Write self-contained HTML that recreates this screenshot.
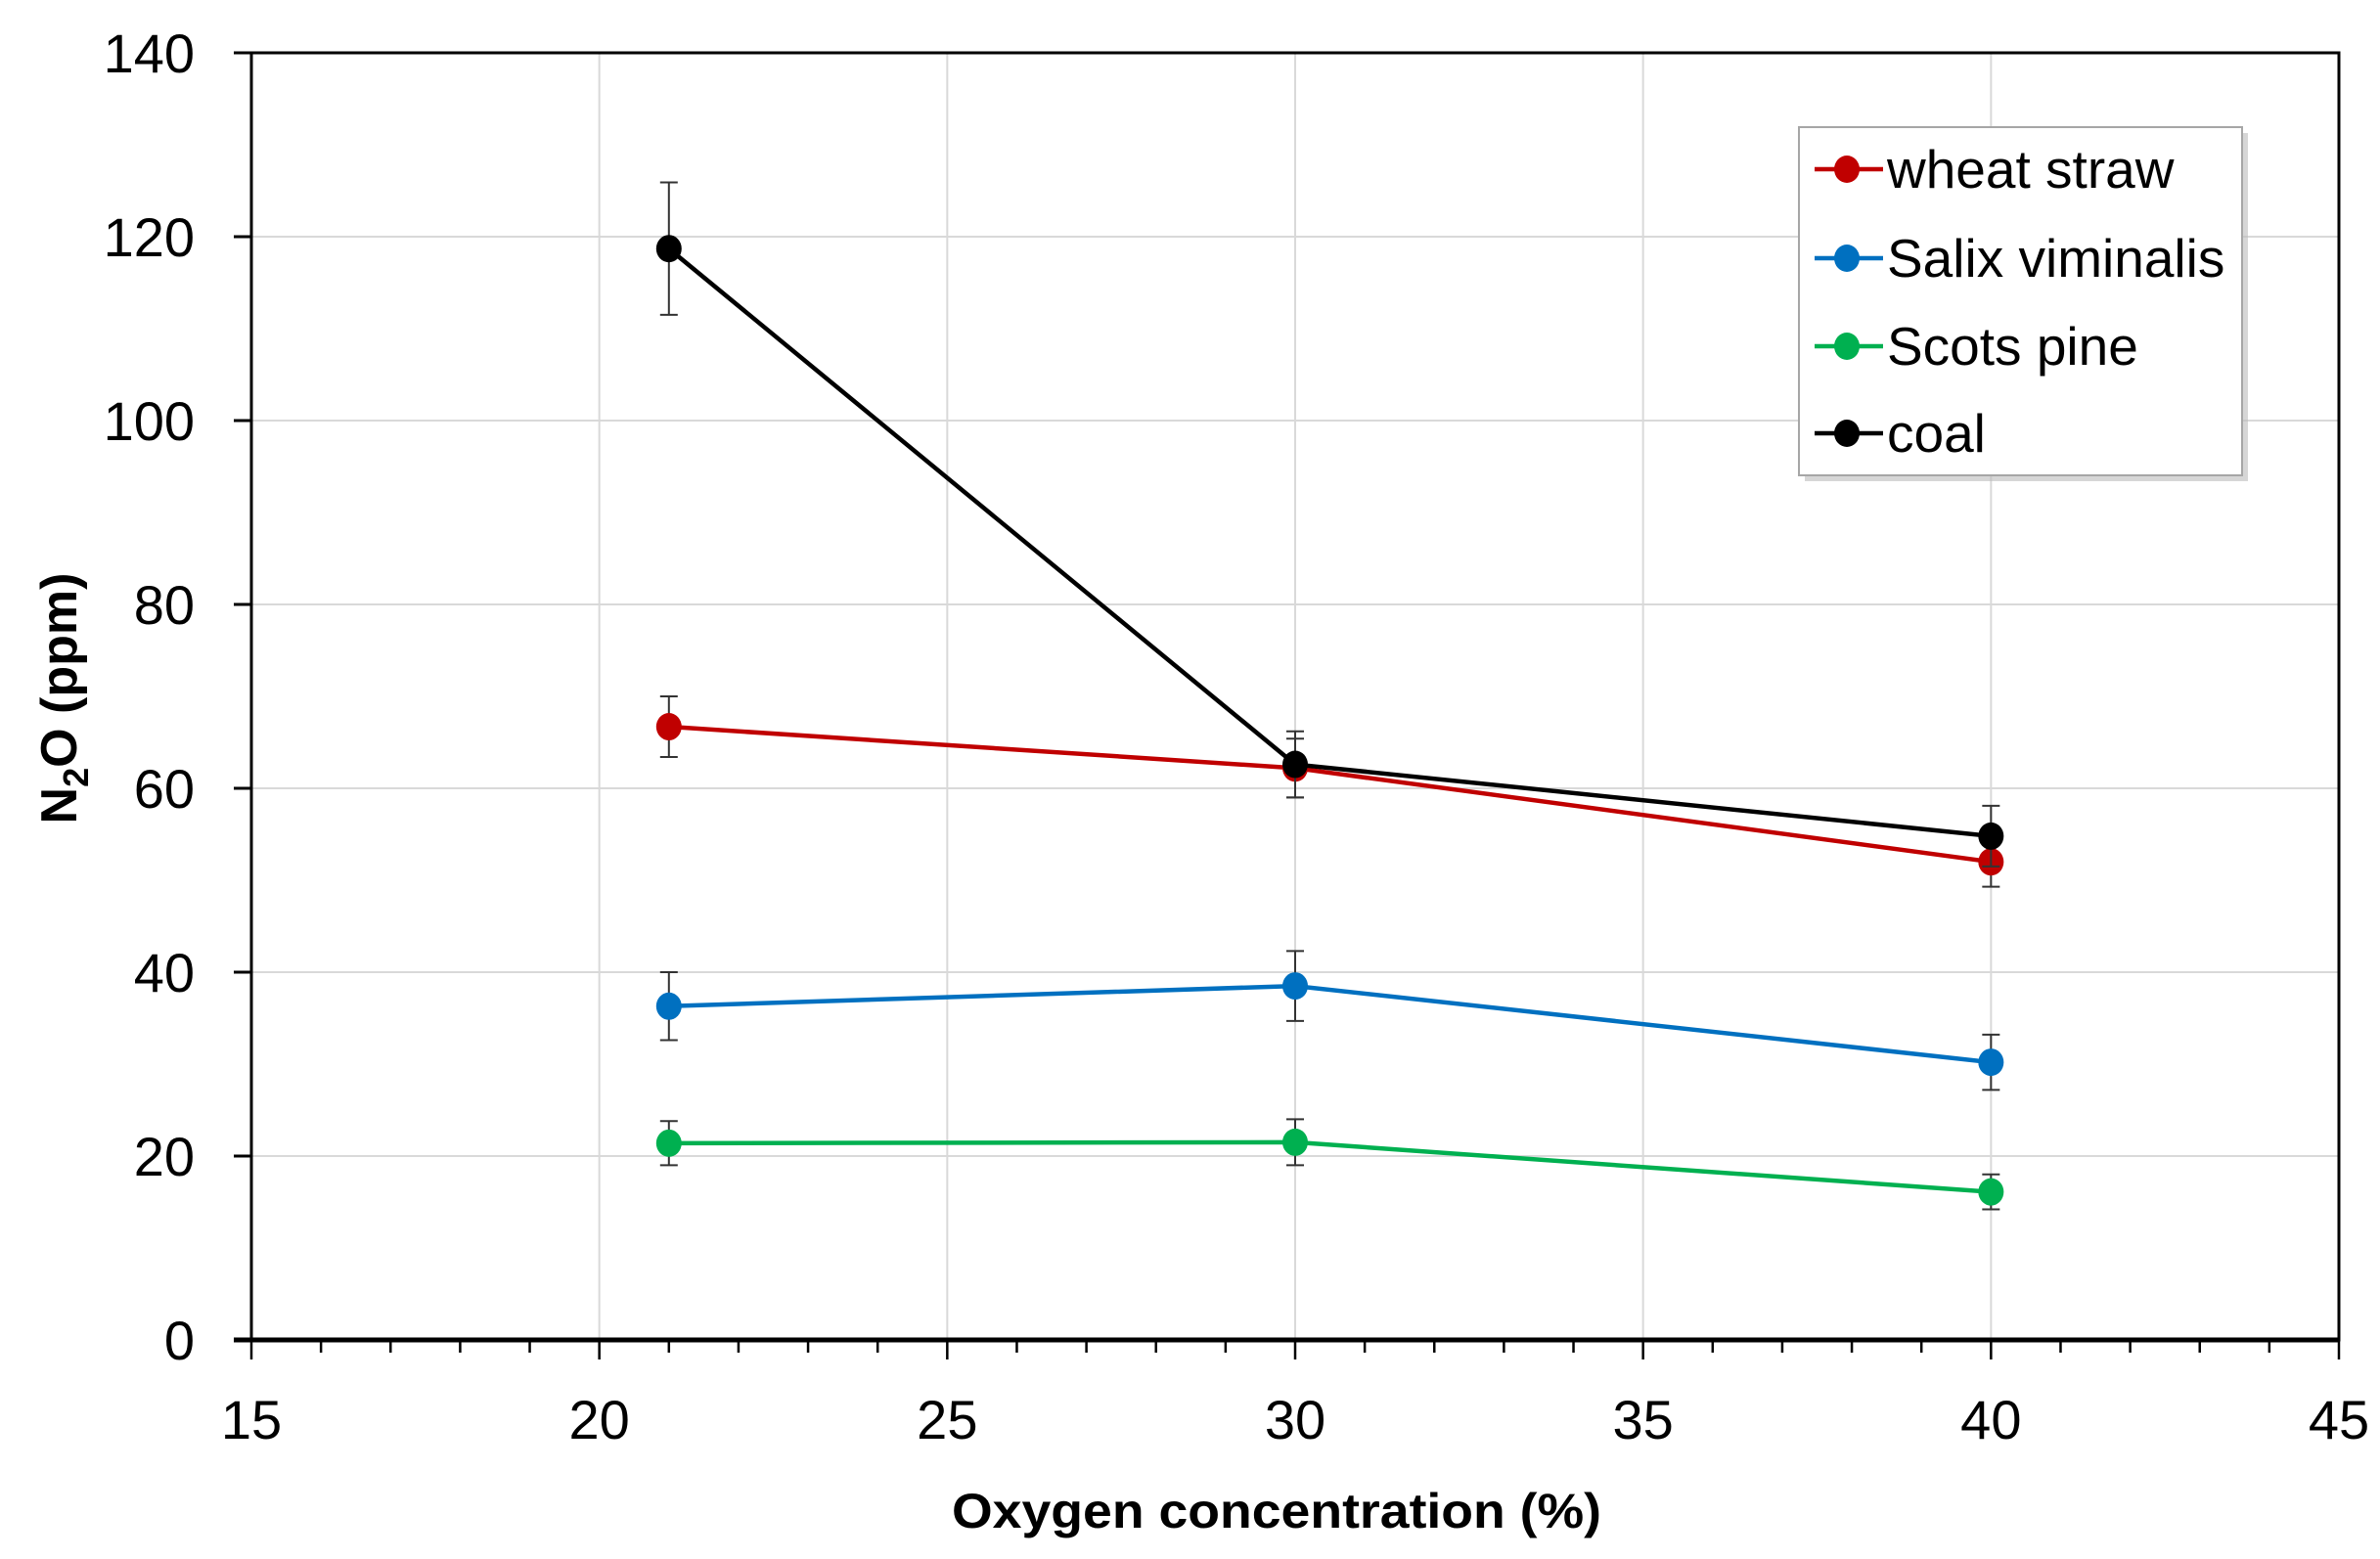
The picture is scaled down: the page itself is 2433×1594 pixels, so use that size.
<!DOCTYPE html>
<html><head><meta charset="utf-8"><style>
html,body{margin:0;padding:0;background:#fff;}
svg{display:block;font-family:"Liberation Sans",sans-serif;}
</style></head><body>
<svg id="chart" width="2433" height="1594" viewBox="0 0 2433 1594" xmlns="http://www.w3.org/2000/svg"></svg>
<script>
const xCats = [21, 30, 40];
const seriesNames = ["wheat straw", "Salix viminalis", "Scots pine", "coal"];
const seriesColors = ["#c00000", "#0070c0", "#00b050", "#000000"];
const wheatVals = [66.7, 62.2, 52.0];
const salixVals = [36.3, 38.5, 30.2];
const pineVals = [21.4, 21.5, 16.1];
const coalVals = [118.7, 62.6, 54.8];
const wheatErr = [3.3, 3.2, 2.7];
const salixErr = [3.7, 3.8, 3.0];
const pineErr = [2.4, 2.5, 1.9];
const coalErr = [7.2, 3.6, 3.3];
const xTicks = [15, 20, 25, 30, 35, 40, 45];
const yTicks = [0, 20, 40, 60, 80, 100, 120, 140];

const svg = document.getElementById('chart');
const NS = "http://www.w3.org/2000/svg";
const L = 257, R = 2391, T = 54, B = 1370;
const xMin = 15, xMax = 45, yMin = 0, yMax = 140;
function X(v){ return L + (v - xMin) / (xMax - xMin) * (R - L); }
function Y(v){ return B - (v - yMin) / (yMax - yMin) * (B - T); }
function mk(tag, attrs, parent){
  const e = document.createElementNS(NS, tag);
  for (const k in attrs) e.setAttribute(k, attrs[k]);
  (parent || svg).appendChild(e);
  return e;
}
for (const t of yTicks) {
  if (t === 0) continue;
  const g = mk('line', {x1: L, x2: R, y1: Y(t), y2: Y(t), stroke: '#d9d9d9', 'stroke-width': 2});
  
  
}
for (const t of xTicks) {
  if (t === xMin || t === xMax) continue;
  const g = mk('line', {x1: X(t), x2: X(t), y1: T, y2: B, stroke: '#d9d9d9', 'stroke-width': 2});
  
  
}
const frame = mk('rect', {x: L, y: T, width: R - L, height: B - T, fill: 'none', stroke: '#000', 'stroke-width': 3});


const xAxis = mk('line', {x1: L - 18, x2: R, y1: B, y2: B, stroke: '#000', 'stroke-width': 5});


for (const t of yTicks) {
  const tk = mk('line', {x1: L - 18, x2: L, y1: Y(t), y2: Y(t), stroke: '#000', 'stroke-width': 3});
  
  
  const tx = mk('text', {x: 199, y: Y(t) + 20, 'text-anchor': 'end', 'font-size': 56, fill: '#000'});
  tx.textContent = t;
  
  
}
for (let v = xMin; v <= xMax; v++) {
  const major = (v % 5 === 0);
  const tk = mk('line', {x1: X(v), x2: X(v), y1: B, y2: B + (major ? 20 : 13), stroke: '#000', 'stroke-width': 2.5});
  
  
}
for (const t of xTicks) {
  const tx = mk('text', {x: X(t), y: 1471, 'text-anchor': 'middle', 'font-size': 56, fill: '#000'});
  tx.textContent = t;
  
  
}
const xt = mk('text', {x: 1305, y: 1562, 'text-anchor': 'middle', 'font-size': 50, 'font-weight': 'bold', textLength: 664, lengthAdjust: 'spacingAndGlyphs'});
xt.textContent = 'Oxygen concentration (%)';


const yt = mk('text', {x: 0, y: 0, 'text-anchor': 'middle', 'font-size': 52, 'font-weight': 'bold', transform: 'translate(78,714) rotate(-90)'});
yt.innerHTML = 'N<tspan dy="12" font-size="36">2</tspan><tspan dy="-12">O (ppm)</tspan>';



const allVals = [wheatVals, salixVals, pineVals, coalVals];
const allErr = [wheatErr, salixErr, pineErr, coalErr];
const slugs = ['wheat-straw', 'salix-viminalis', 'scots-pine', 'coal'];
for (let s = 0; s < allVals.length; s++) {
  const vals = allVals[s], errs = allErr[s], col = seriesColors[s];
  const g = mk('g', {});
  
  
  const pts = vals.map((v, i) => X(xCats[i]) + ',' + Y(v)).join(' ');
  const pl = mk('polyline', {points: pts, fill: 'none', stroke: col, 'stroke-width': 4.5}, g);
  
  
  for (let i = 0; i < vals.length; i++) {
    const x = X(xCats[i]);
    const eb = mk('path', {d: `M${x},${Y(vals[i]-errs[i])}V${Y(vals[i]+errs[i])}M${x-9},${Y(vals[i]-errs[i])}h18M${x-9},${Y(vals[i]+errs[i])}h18`, stroke: '#333', 'stroke-width': 2, fill: 'none'}, g);
    
    
  }
  for (let i = 0; i < vals.length; i++) {
    const c = mk('ellipse', {cx: X(xCats[i]), cy: Y(vals[i]), rx: 13, ry: 14, fill: col}, g);
    
    
  }
}
const lg = mk('g', {});


const sh = mk('rect', {x: 1845, y: 136, width: 453, height: 356, fill: '#bbb', opacity: 0.6}, lg);


const lb = mk('rect', {x: 1839, y: 130, width: 453, height: 356, fill: '#fff', stroke: '#a6a6a6', 'stroke-width': 2}, lg);


const ly = [173, 264, 354, 443];
for (let s = 0; s < seriesNames.length; s++) {
  const e = mk('g', {}, lg);
  
  
  const ln = mk('line', {x1: 1855, x2: 1925, y1: ly[s], y2: ly[s], stroke: seriesColors[s], 'stroke-width': 4.5}, e);
  
  
  const mkr = mk('ellipse', {cx: 1888, cy: ly[s], rx: 13, ry: 14, fill: seriesColors[s]}, e);
  
  
  const tx = mk('text', {x: 1929, y: ly[s] + 19, 'font-size': 55, fill: '#000'}, e);
  tx.textContent = seriesNames[s];
  
  
}
</script>
</body></html>
